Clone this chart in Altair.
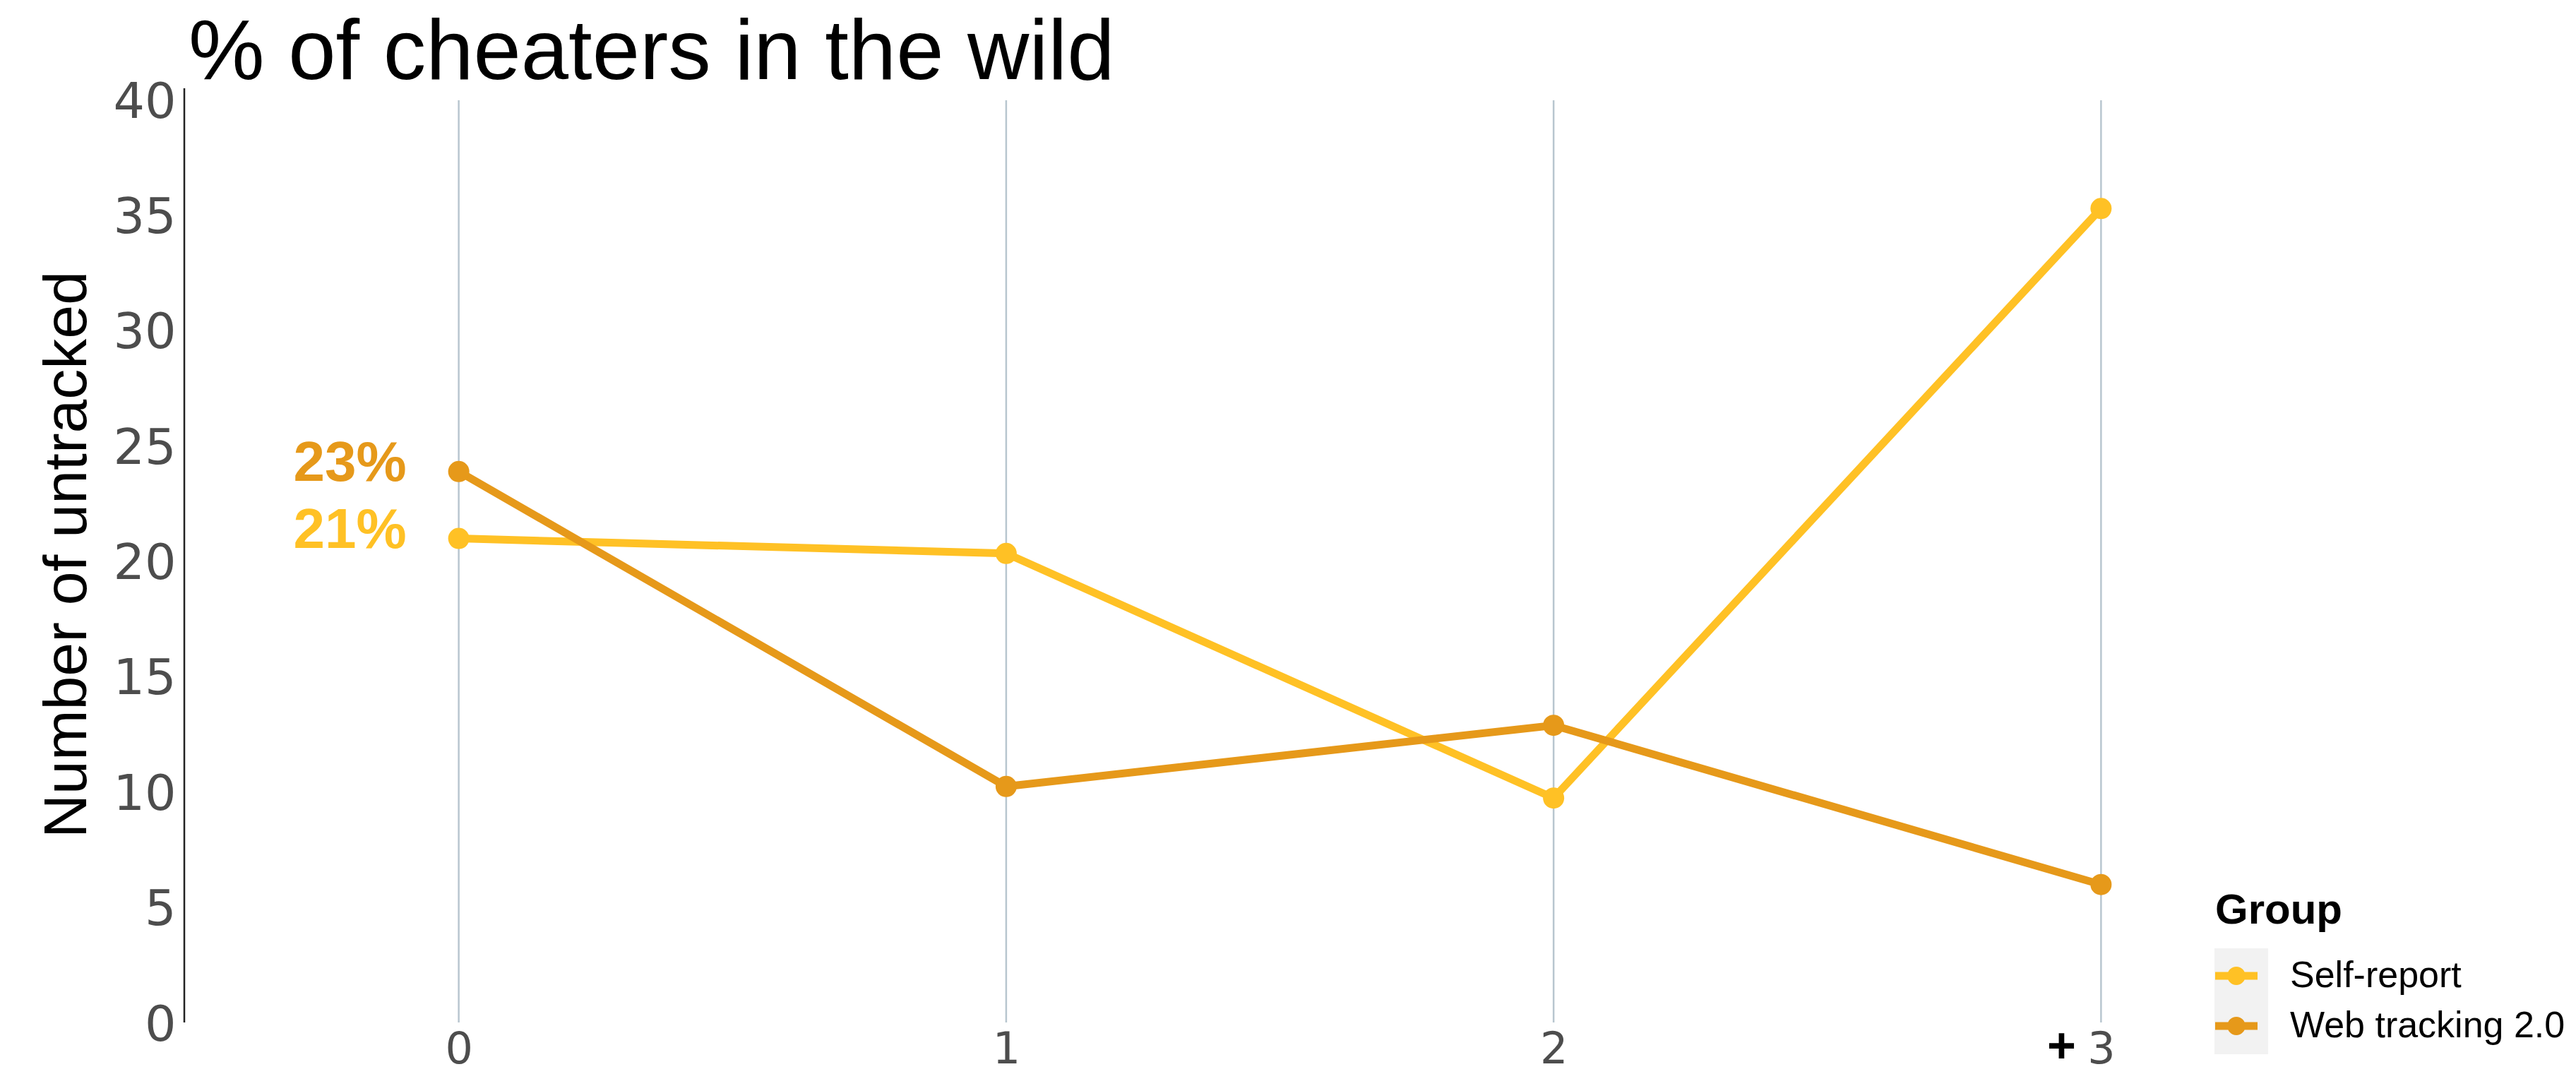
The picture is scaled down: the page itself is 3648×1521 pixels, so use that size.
import json

import altair as alt
import pandas as pd

# Number of untracked counts per group, by category 0, 1, 2, 3+
categories = [0, 1, 2, 3]
tick_labels = ["0", "1", "2", "3"]
open_end_mark = "+"
groups = ["Self-report", "Web tracking 2.0"]
self_report = [21.1, 20.45, 9.85, 35.4]
web_tracking = [24.0, 10.35, 13.0, 6.1]
start_labels = ["21%", "23%"]
colors = ["#FFC125", "#E6991A"]

title_text = "% of cheaters in the wild"
y_title = "Number of untracked"
legend_title = "Group"

rows = []
for g, vals in zip(groups, [self_report, web_tracking]):
    for c, v in zip(categories, vals):
        rows.append({"count": c, "value": v, "Group": g})
df = pd.DataFrame(rows)

label_df = pd.DataFrame({
    "count": [categories[0]] * len(groups),
    "value": [self_report[0], web_tracking[0]],
    "Group": groups,
    "text": start_labels,
})
grid_df = pd.DataFrame({"count": categories})
plus_df = pd.DataFrame({"count": [categories[-1]], "t": [open_end_mark]})
one_df = pd.DataFrame({"a": [0]})

W, H = 3101, 1307
PAD = {"left": 262, "top": 145, "right": 3648 - 262 - W, "bottom": 1521 - 145 - H}

x_scale = alt.Scale(domain=[-0.5, 3.5], nice=False, zero=False)
y_scale = alt.Scale(domain=[0, 40], nice=False, zero=False)
color_scale = alt.Scale(domain=groups, range=colors)

TICK_FONT = "DejaVu Sans"
TICK_COLOR = "#4D4D4D"
X_LABEL_BASELINE = 1505  # absolute pixel row of the x tick label baseline

x_axis = alt.Axis(
    values=categories,
    labelExpr=f"{json.dumps(tick_labels)}[datum.value]",
    grid=False, domain=False, ticks=False,
    labelFont=TICK_FONT, labelFontSize=62, labelColor=TICK_COLOR,
    labelBaseline="alphabetic",
    labelPadding=X_LABEL_BASELINE - (PAD["top"] + H), title=None,
)
y_axis = alt.Axis(
    values=list(range(0, 41, 5)),
    grid=False, domain=False, ticks=False,
    labelFont=TICK_FONT, labelFontSize=70, labelColor=TICK_COLOR,
    labelPadding=13,
    title=y_title,
    titleFont="Liberation Sans",
    titleFontSize=86, titleFontWeight="normal", titleColor="#000000",
    titleAngle=270, titleAlign="center", titleBaseline="alphabetic",
    titleX=-141, titleY=640,
)

legend_path = (
    "M-1,-0.18L1,-0.18L1,0.18L-1,0.18Z "
    "M-0.43,0A0.43,0.43 0 1,1 0.43,0A0.43,0.43 0 1,1 -0.43,0Z"
)
legend = alt.Legend(
    title=legend_title, orient="none", legendX=2875, legendY=1116,
    symbolType=legend_path, symbolSize=3600, symbolStrokeWidth=0, symbolOpacity=1,
    titleFont="Liberation Sans", titleFontSize=60, titleFontWeight="bold",
    titleColor="#000000", titlePadding=31,
    labelFont="Liberation Sans", labelFontSize=52, labelColor="#000000",
    labelOffset=46, labelLimit=1000, rowPadding=15,
)

# grey key background behind the legend symbols
key_bg = alt.Chart(one_df).mark_rect(color="#F2F2F2").encode(
    x=alt.value(3136 - PAD["left"]), x2=alt.value(3212 - PAD["left"]),
    y=alt.value(1343 - PAD["top"]), y2=alt.value(1493 - PAD["top"]),
)

grid = alt.Chart(grid_df).mark_rule(color="#B8C6CF", strokeWidth=2.5).encode(
    x=alt.X("count:Q", scale=x_scale, axis=x_axis),
    y=alt.value(-3), y2=alt.value(H - 4),
)

y_line = alt.Chart(one_df).mark_rule(color="#222222", strokeWidth=2.5).encode(
    x=alt.value(-1), y=alt.value(-20), y2=alt.value(H - 4),
)

lines = alt.Chart(df).mark_line(strokeWidth=11).encode(
    x=alt.X("count:Q", scale=x_scale),
    y=alt.Y("value:Q", scale=y_scale, axis=y_axis),
    color=alt.Color("Group:N", scale=color_scale, legend=None),
    detail="Group:N",
)

points = alt.Chart(df).mark_point(filled=True, size=900, opacity=1).encode(
    x=alt.X("count:Q", scale=x_scale),
    y=alt.Y("value:Q", scale=y_scale),
    color=alt.Color("Group:N", scale=color_scale, legend=legend),
)

start_text = alt.Chart(label_df).mark_text(
    align="right", baseline="alphabetic", dx=-74, dy=13,
    font="Liberation Sans", fontSize=80, fontWeight="bold",
).encode(
    x=alt.X("count:Q", scale=x_scale),
    y=alt.Y("value:Q", scale=y_scale),
    text="text:N",
    color=alt.Color("Group:N", scale=color_scale, legend=None),
)

plus_text = alt.Chart(plus_df).mark_text(
    align="center", baseline="alphabetic", dx=-56,
    font="Liberation Sans", fontSize=70, fontWeight="bold", color="#000000",
).encode(
    x=alt.X("count:Q", scale=x_scale),
    y=alt.value(X_LABEL_BASELINE - PAD["top"]),
    text="t:N",
)

title = alt.Chart(one_df).mark_text(
    align="left", baseline="alphabetic",
    font="Liberation Sans", fontSize=121, color="#000000",
).encode(
    x=alt.value(5), y=alt.value(112 - PAD["top"]), text=alt.value(title_text),
)

chart = alt.layer(
    key_bg, grid, y_line, lines, points, start_text, plus_text, title
).resolve_legend(
    color="independent"
).properties(
    width=W, height=H,
    autosize=alt.AutoSizeParams(type="none"),
    padding=PAD,
    background="#FFFFFF",
).configure_view(stroke=None)

chart.save("out.html", embed_options={"renderer": "svg", "actions": False})
